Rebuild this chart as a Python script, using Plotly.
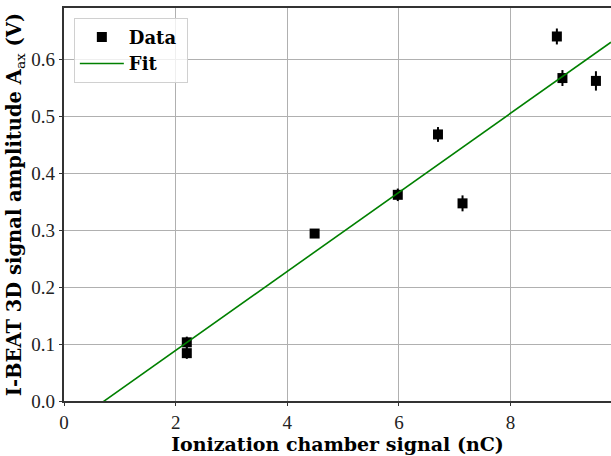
import plotly.graph_objects as go

# Data
ic_signal = [2.2, 2.2, 4.49, 5.98, 6.7, 7.14, 8.83, 8.93, 9.53]
amplitude = [0.103, 0.084, 0.294, 0.362, 0.468, 0.347, 0.640, 0.567, 0.562]
amp_err = [0.010, 0.010, 0.007, 0.011, 0.013, 0.014, 0.014, 0.014, 0.017]

fit_x = [0.0, 9.8]
fit_y = [-0.050, 0.630]

x_ticks = [0, 2, 4, 6, 8]
y_ticks = [0.0, 0.1, 0.2, 0.3, 0.4, 0.5, 0.6]

TICK_FONT = "Liberation Serif"
TITLE_FONT = "DejaVu Serif"

fig = go.Figure()
fig.add_trace(go.Scatter(
    x=ic_signal, y=amplitude, mode="markers", name="<b>Data</b>&nbsp;",
    marker=dict(symbol="square", size=10, color="black"),
    error_y=dict(type="data", array=amp_err, visible=True, color="black",
                 thickness=2, width=0),
))
fig.add_trace(go.Scatter(
    x=fit_x, y=fit_y, mode="lines", name="<b>Fit</b>",
    line=dict(color="green", width=1.6),
))

axis_common = dict(
    showgrid=True, gridcolor="#b0b0b0", gridwidth=1,
    showline=True, linecolor="#333333", linewidth=1.5, mirror=True,
    ticks="outside", ticklen=3.5, tickcolor="#333333",
    zeroline=False, automargin=False,
    tickfont=dict(family=TICK_FONT, size=19, color="#222"),
)

fig.update_layout(
    width=611, height=456,
    margin=dict(l=64, r=0, t=8, b=55),
    paper_bgcolor="white", plot_bgcolor="white",
    font=dict(family=TITLE_FONT, color="black"),
    showlegend=True,
    legend=dict(
        x=0.018, y=0.975, xanchor="left", yanchor="top",
        bgcolor="rgba(255,255,255,0.8)", bordercolor="#d0d0d0", borderwidth=1,
        font=dict(family=TITLE_FONT, size=18, color="black"),
        itemwidth=44, tracegroupgap=2,
    ),
    xaxis=dict(
        range=[0, 9.8], tickvals=x_ticks, ticktext=[str(v) for v in x_ticks],
        title=dict(text="<b>Ionization chamber signal (nC)</b>",
                   font=dict(family=TITLE_FONT, size=19, color="black"), standoff=0),
        **axis_common,
    ),
    yaxis=dict(
        range=[0, 0.69], tickvals=y_ticks, ticktext=[f"{v:.1f}" for v in y_ticks],
        title=dict(text="<b>I-BEAT 3D signal amplitude A</b><sub>ax</sub><b> (V)</b>",
                   font=dict(family=TITLE_FONT, size=19.5, color="black"), standoff=4),
        **axis_common,
    ),
)

fig.write_html("out.html", config={"displayModeBar": False},
               post_script="document.body.style.margin='0px';document.body.style.overflow='hidden';")
